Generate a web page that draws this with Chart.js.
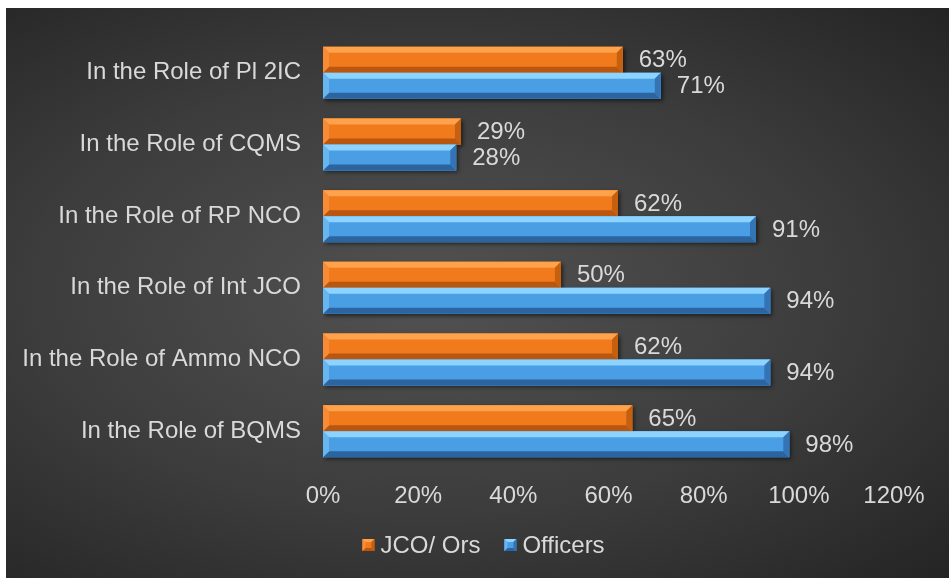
<!DOCTYPE html>
<html>
<head>
<meta charset="utf-8">
<script src="https://cdn.jsdelivr.net/npm/chart.js@4.4.1/dist/chart.umd.min.js"></script>
<style>
  html, body { margin: 0; padding: 0; background: #ffffff; }
  #box {
    position: absolute; left: 6px; top: 8px; width: 943px; height: 570px;
    background: radial-gradient(ellipse farthest-corner at 45% 50%, #525252 0%, #3c3c3c 55%, #242424 100%);
  }
</style>
</head>
<body>
<div id="box"><canvas id="myChart" width="943" height="570"></canvas></div>
<script>
var categories = [
    "In the Role of Pl 2IC",
    "In the Role of CQMS",
    "In the Role of RP NCO",
    "In the Role of Int JCO",
    "In the Role of Ammo NCO",
    "In the Role of BQMS"
];
var seriesNames = ["JCO/ Ors", "Officers"];
var jcoValues = [63, 29, 62, 50, 62, 65];
var officerValues = [71, 28, 91, 94, 94, 98];
var tickMax = 120;
var tickStep = 20;

// colours for the bevelled bars: [flat, top, bottom, left, right]
var bevelColors = [
    ["#f07a1c", "#ffa24c", "#b9560f", "#f88c36", "#c4600f"],
    ["#4a9fe4", "#8dd3ff", "#2c64a0", "#68b6f0", "#3474b4"]
];

var textColor = "#d9d9d9";
var fontFamily = "'Liberation Sans', Arial, sans-serif";
var fontSize = 24;

function drawBevel(ctx, c, l, t, r, b, e) {
    ctx.fillStyle = c[0];
    ctx.fillRect(l, t, r - l, b - t);
    // top
    ctx.fillStyle = c[1];
    ctx.beginPath();
    ctx.moveTo(l, t); ctx.lineTo(r, t); ctx.lineTo(r - e, t + e); ctx.lineTo(l + e, t + e);
    ctx.closePath(); ctx.fill();
    // bottom
    ctx.fillStyle = c[2];
    ctx.beginPath();
    ctx.moveTo(l, b); ctx.lineTo(r, b); ctx.lineTo(r - e, b - e); ctx.lineTo(l + e, b - e);
    ctx.closePath(); ctx.fill();
    // left
    ctx.fillStyle = c[3];
    ctx.beginPath();
    ctx.moveTo(l, t); ctx.lineTo(l + e, t + e); ctx.lineTo(l + e, b - e); ctx.lineTo(l, b);
    ctx.closePath(); ctx.fill();
    // right
    ctx.fillStyle = c[4];
    ctx.beginPath();
    ctx.moveTo(r, t); ctx.lineTo(r - e, t + e); ctx.lineTo(r - e, b - e); ctx.lineTo(r, b);
    ctx.closePath(); ctx.fill();
}

var bevelPlugin = {
    id: 'bevel',
    beforeDatasetsDraw: function(chart) {
        var ctx = chart.ctx;
        ctx.save();
        ctx.shadowColor = "rgba(0,0,0,0.55)";
        ctx.shadowBlur = 4;
        ctx.shadowOffsetX = 2;
        ctx.shadowOffsetY = 2;
    },
    afterDatasetsDraw: function(chart) {
        var ctx = chart.ctx;
        ctx.restore();
        chart.data.datasets.forEach(function(ds, di) {
            var meta = chart.getDatasetMeta(di);
            meta.data.forEach(function(bar, i) {
                var p = bar.getProps(['x', 'y', 'base', 'height'], true);
                ctx.save();
                drawBevel(ctx, bevelColors[di], p.base, p.y - p.height / 2, p.x, p.y + p.height / 2, 6);
                // value label
                ctx.fillStyle = textColor;
                ctx.font = fontSize + "px " + fontFamily;
                ctx.textAlign = "left";
                ctx.textBaseline = "middle";
                ctx.fillText(ds.data[i] + "%", p.x + 16, p.y + 1);
                ctx.restore();
            });
        });
    },
    afterDraw: function(chart) {
        // legend at the bottom
        var ctx = chart.ctx;
        ctx.save();
        ctx.font = fontSize + "px " + fontFamily;
        var widths = chart.data.datasets.map(function(ds) { return ctx.measureText(ds.label).width; });
        var total = 0;
        widths.forEach(function(w) { total += 18 + w; });
        total += 24 * (widths.length - 1);
        var x = chart.width / 2 + 6 - total / 2;
        var y = chart.height - 33;
        chart.data.datasets.forEach(function(ds, di) {
            drawBevel(ctx, bevelColors[di], x, y - 6, x + 12, y + 6, 3);
            ctx.fillStyle = textColor;
            ctx.textAlign = "left";
            ctx.textBaseline = "middle";
            ctx.fillText(ds.label, x + 18, y + 1);
            x += 18 + widths[di] + 24;
        });
        ctx.restore();
    }
};

var ctx = document.getElementById("myChart");
var myChart = new Chart(ctx, {
    type: 'bar',
    data: {
        labels: categories,
        datasets: [{
            label: seriesNames[0],
            data: jcoValues,
            backgroundColor: bevelColors[0][0],
            borderWidth: 0
        }, {
            label: seriesNames[1],
            data: officerValues,
            backgroundColor: bevelColors[1][0],
            borderWidth: 0
        }]
    },
    options: {
        indexAxis: 'y',
        responsive: false,
        animation: false,
        devicePixelRatio: 1,
        categoryPercentage: 0.725,
        barPercentage: 1,
        layout: { padding: { left: 0, right: 55, top: 29, bottom: 55 } },
        scales: {
            x: {
                min: 0,
                max: tickMax,
                ticks: {
                    stepSize: tickStep,
                    color: textColor,
                    font: { size: fontSize, family: fontFamily },
                    padding: 15,
                    callback: function(v) { return v + '%'; }
                },
                grid: { display: false, drawTicks: false },
                border: { display: false },
                afterFit: function(scale) { scale.height = 56; }
            },
            y: {
                ticks: {
                    color: textColor,
                    font: { size: fontSize, family: fontFamily },
                    padding: 8
                },
                grid: {
                    display: true,
                    drawOnChartArea: false,
                    drawTicks: true,
                    tickLength: 14,
                    tickColor: 'rgba(0,0,0,0)'
                },
                border: { display: false },
                afterFit: function(scale) { scale.width = 317; }
            }
        },
        plugins: {
            legend: { display: false },
            tooltip: { enabled: false }
        }
    },
    plugins: [bevelPlugin]
});
</script>
</body>
</html>
